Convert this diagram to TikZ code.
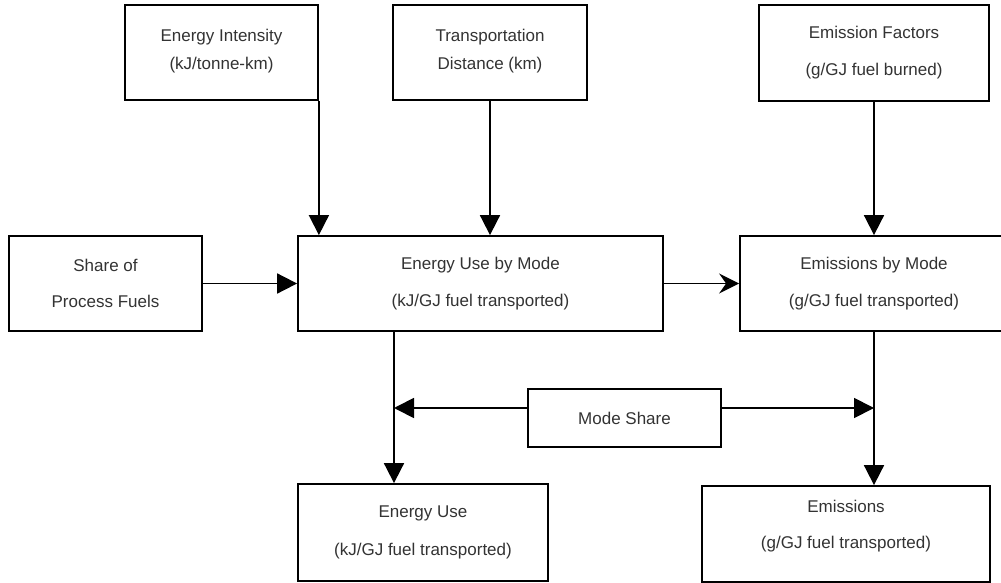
\documentclass[tikz,border=0pt]{standalone}
\usepackage{fontspec}
\setmainfont{Liberation Sans}
\usetikzlibrary{arrows.meta}
\definecolor{txt}{HTML}{333333}
\begin{document}
\begin{tikzpicture}[x=1pt,y=-1pt,
  box/.style={draw=black,line width=1.8pt,rectangle,inner sep=0pt,
    align=center,text=txt,font=\fontsize{17}{20}\selectfont},
  flow/.style={draw=black,line width=1.8pt,-{Triangle[length=20pt,width=20pt]}},
  flowb/.style={draw=black,line width=1.8pt,-{Stealth[length=20pt,width=20pt,inset=7pt]}}]
\useasboundingbox (0,0) rectangle (1001,583);
\fill[white] (0,0) rectangle (1001,583);

% input boxes along the top
\node[box,minimum width=193pt,minimum height=95pt] (ei) at (221.5,52.5)
  {Energy Intensity\\[8pt](kJ/tonne-km)\\[-13pt]\mbox{}};
\node[box,minimum width=194pt,minimum height=95pt] (td) at (490,52.5)
  {Transportation\\[8pt]Distance (km)\\[-13pt]\mbox{}};
\node[box,minimum width=230pt,minimum height=96pt] (ef) at (874,53)
  {Emission Factors\\[17pt](g/GJ fuel burned)};

% middle row
\node[box,minimum width=193pt,minimum height=95pt] (sp) at (105.5,283.5)
  {Share of\\[16pt]Process Fuels};
\node[box,minimum width=365pt,minimum height=95pt] (eum) at (480.5,283.5)
  {Energy Use by Mode\\[17pt](kJ/GJ fuel transported)};
\node[box,minimum width=268pt,minimum height=95pt] (ebm) at (874,283.5)
  {Emissions by Mode\\[17pt](g/GJ fuel transported)};

% mode share and results
\node[box,minimum width=193pt,minimum height=58pt] (ms) at (624.5,418)
  {Mode Share};
\node[box,minimum width=250pt,minimum height=97pt] (eu) at (423,532.5)
  {Energy Use\\[18pt](kJ/GJ fuel transported)};
\node[box,minimum width=288pt,minimum height=96pt] (em) at (846,534)
  {Emissions\\[16pt](g/GJ fuel transported)\\ \mbox{}};

% junctions on the vertical flows
\coordinate (jl) at (394,408);
\coordinate (jr) at (874,408);

% connectors
\draw[flow] (ei.south east) -- (ei.south east |- eum.north);
\draw[flow] (td.south) -- (td.south |- eum.north);
\draw[flow] (ef.south) -- (ef.south |- ebm.north);
\draw[flow] (sp.east) -- (sp.east -| eum.west);
\draw[flowb] (eum.east) -- (eum.east -| ebm.west);
\draw[flow] (jl |- eum.south) -- (jl |- eu.north);
\draw[flow] (jr |- ebm.south) -- (jr |- em.north);
\draw[flow] (ms.west |- jl) -- (jl);
\draw[flow] (ms.east |- jr) -- (jr);
\end{tikzpicture}
\end{document}
